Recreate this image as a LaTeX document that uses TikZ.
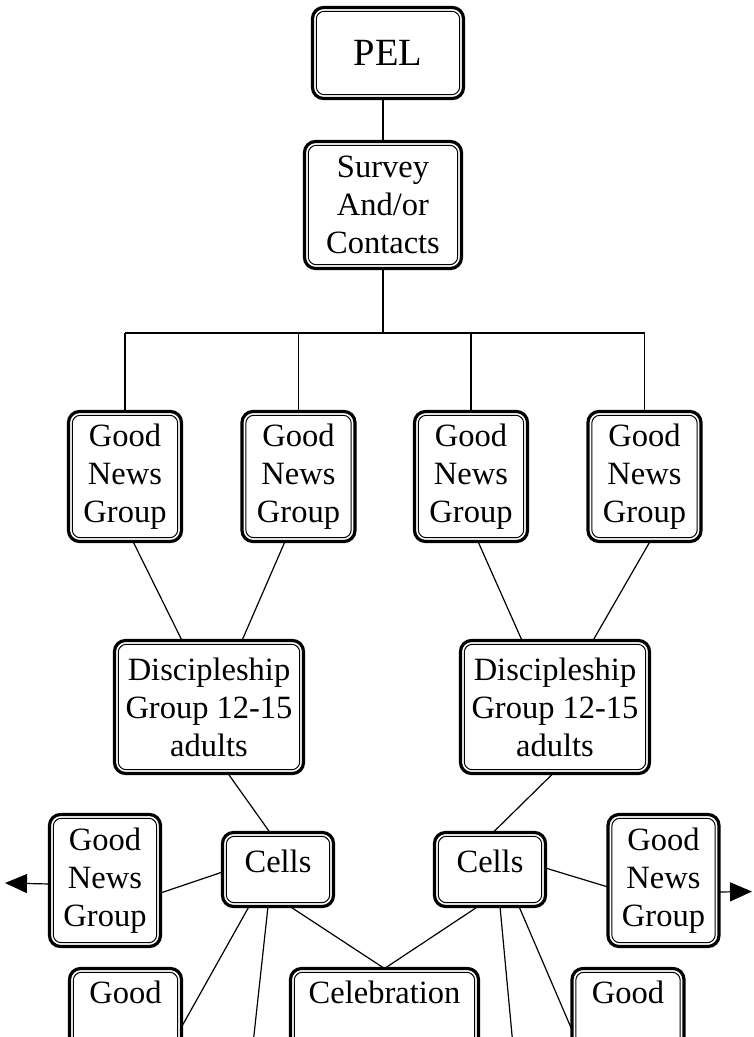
\documentclass[tikz,border=0pt]{standalone}
\usepackage{fontspec}
\setmainfont{Liberation Serif}
\usetikzlibrary{arrows.meta,calc}
\begin{document}
\begin{tikzpicture}[x=1pt,y=-1pt,
  box/.style={draw, line width=1pt, rounded corners=8pt, outer sep=3.8pt,
    inner sep=0pt, align=center, font=\fontsize{32.5}{38}\selectfont},
  frame/.style={line width=3.2pt, rounded corners=11pt},
  link/.style={line width=1.2pt},
  tip/.style={-{Triangle[length=22pt,width=19pt]}}
]
\useasboundingbox (0,0) rectangle (753,1037);
\clip (0,0) rectangle (753,1037);

% top of the chart
\node[box, minimum width=143.4pt, minimum height=83.4pt,
  font=\fontsize{38.5}{44}\selectfont] (pel) at (388,53) {PEL};
\node[box, minimum width=149.4pt, minimum height=119.4pt] (survey) at (383,205)
  {Survey\\And/or\\Contacts};

% first row of Good News groups
\foreach \n/\x in {g1/125, g2/298.5, g3/471, g4/644.5}
  \node[box, minimum width=105.4pt, minimum height=122.4pt] (\n) at (\x,476.5)
    {Good\\News\\Group};

% discipleship groups
\foreach \n/\x in {d1/209, d2/555}
  \node[box, minimum width=181.4pt, minimum height=125.4pt] (\n) at (\x,707)
    {Discipleship\\Group 12-15\\adults};

% cells
\foreach \n/\x in {c1/278, c2/490}
  \node[box, minimum width=103.4pt, text height=36pt, text depth=30.4pt] (\n) at (\x,869.5)
    {Cells};

% side Good News groups
\foreach \n/\x in {gl/105, gr/663.5}
  \node[box, minimum width=103.4pt, minimum height=124.4pt] (\n) at (\x,880.5)
    {Good\\News\\Group};

% bottom row
\node[box, minimum width=104.4pt, text height=31pt, text depth=91.4pt] (bl) at (125.5,1033.5) {Good};
\node[box, minimum width=180.4pt, text height=31pt, text depth=91.4pt] (cel) at (384.5,1033.5) {Celebration};
\node[box, minimum width=104.4pt, text height=31pt, text depth=91.4pt] (br) at (628,1033.5) {Good};

% thick outer frames
\foreach \n in {pel,survey,g1,g2,g3,g4,d1,d2,c1,c2,gl,gr,bl,cel,br}
  \draw[frame] (\n.north west) rectangle (\n.south east);

% connectors
\coordinate (bus) at (383,333);
\coordinate (outL) at (5,883);
\coordinate (outR) at (752,891.5);
\coordinate (downL) at (250.5,1067);
\coordinate (downR) at (515,1067);

\draw[link] (survey.north |- pel.south) -- (survey.north);
\draw[link] (survey.south) -- (bus);
\draw[link] (g1.north |- bus) -- (g4.north |- bus);
\foreach \n in {g1,g2,g3,g4}
  \draw[link] (\n.north |- bus) -- (\n.north);

\draw[link] ($(g1.south)+(8,0)$) -- ($(d1.north)+(-27,0)$);
\draw[link] ($(g2.south)+(-13.5,0)$) -- ($(d1.north)+(33,0)$);
\draw[link] ($(g3.south)+(7,0)$) -- ($(d2.north)+(-33,0)$);
\draw[link] ($(g4.south)+(5.5,0)$) -- ($(d2.north)+(38,0)$);

\draw[link] ($(d1.south)+(19,0)$) -- ($(c1.north)+(-8,0)$);
\draw[link] ($(d2.south)+(-2,0)$) -- ($(c2.north)+(3,0)$);

\draw[link] ($(c1.west)+(0,2.5)$) -- ($(gl.east)+(0,12.5)$);
\draw[link] ($(c2.east)+(0,-1.5)$) -- ($(gr.west)+(0,6.5)$);
\draw[link, tip] ($(gl.west)+(0,3.5)$) -- (outL);
\draw[link, tip] ($(gr.east)+(0,11.5)$) -- (outR);

\draw[link] ($(c1.south)+(-29,0)$) -- ($(bl.east)+(0,-6.5)$);
\draw[link] ($(c1.south)+(-10,0)$) -- (downL);
\draw[link] ($(c1.south)+(12,0)$) -- (cel.north);
\draw[link] ($(c2.south)+(-12,0)$) -- (cel.north);
\draw[link] ($(c2.south)+(10,0)$) -- (downR);
\draw[link] ($(c2.south)+(29,0)$) -- ($(br.west)+(0,-3.5)$);
\end{tikzpicture}
\end{document}
